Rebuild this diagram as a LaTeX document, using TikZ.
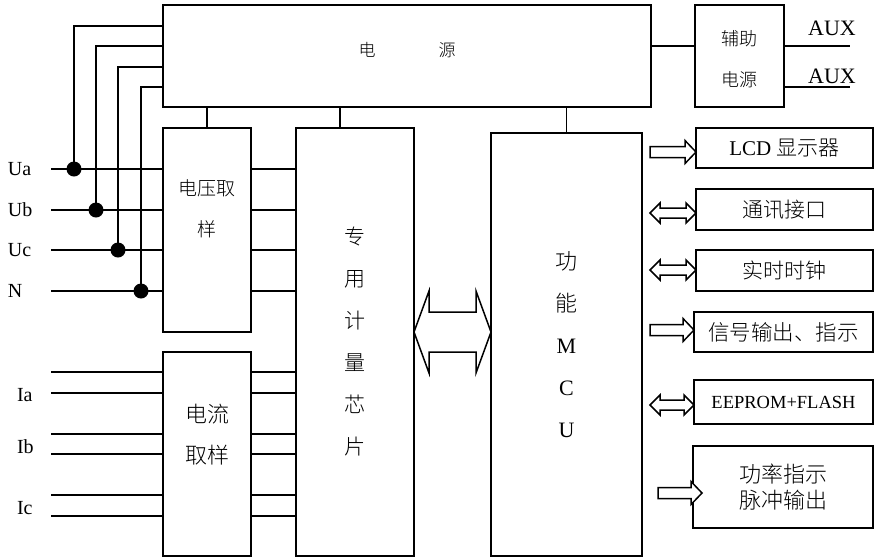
\documentclass[tikz,border=0pt]{standalone}
\usepackage{fontspec}
\setmainfont{Liberation Serif}
\newfontfamily\cjk{Noto Sans CJK SC Light}
\newcommand\fs[2]{\fontsize{#1}{#2}\selectfont}
\newcommand\fatR[2]{\draw[fatarrow] ([shift={(0,-5.5)}]#1) -- ([shift={(-11,-5.5)}]#2) -- ([shift={(-11,-11.5)}]#2) -- (#2) -- ([shift={(-11,11.5)}]#2) -- ([shift={(-11,5.5)}]#2) -- ([shift={(0,5.5)}]#1) -- cycle;}
\newcommand\fatLR[2]{\draw[fatarrow] (#1) -- ([shift={(10,-10)}]#1) -- ([shift={(10,-5)}]#1) -- ([shift={(-10,-5)}]#2) -- ([shift={(-10,-10)}]#2) -- (#2) -- ([shift={(-10,10)}]#2) -- ([shift={(-10,5)}]#2) -- ([shift={(10,5)}]#1) -- ([shift={(10,10)}]#1) -- cycle;}
\begin{document}
\begin{tikzpicture}[x=1pt,y=-1pt,line width=1.7pt,
  box/.style={draw,rectangle,inner sep=0pt,outer sep=0pt},
  lbl/.style={inner sep=0pt,outer sep=0pt},
  dot/.style={circle,fill,inner sep=0pt,minimum size=15pt},
  fatarrow/.style={draw,line width=1.5pt,line join=miter,fill=white}]
\useasboundingbox (0,0) rectangle (875,558);
% main boxes
\node[box,minimum width=488pt,minimum height=102pt] (power) at (407,56) {};
\node[lbl,font=\cjk\fs{17}{17}] (powert) at (407,50) {电\hspace{63pt}源};
\node[box,minimum width=89pt,minimum height=102pt] (aux) at (739.5,56) {};
\node[lbl,align=center,font=\cjk\fs{18}{41}] (auxt) at (739.5,59.5) {辅助\\电源};
\node[box,minimum width=88pt,minimum height=204pt] (vbox) at (207,230) {};
\node[lbl,align=center,font=\cjk\fs{19}{41}] (vboxt) at (207,208.5) {电压取\\样};
\node[box,minimum width=88pt,minimum height=204pt] (cbox) at (207,454) {};
\node[lbl,align=center,font=\cjk\fs{22}{41}] (cboxt) at (207,434.5) {电流\\取样};
\node[box,minimum width=118pt,minimum height=428pt,align=center,font=\cjk\fs{21}{42}] (chip) at (355,342) {专\\用\\计\\量\\芯\\片};
\node[box,minimum width=151pt,minimum height=423pt,align=center,font=\fs{22}{42}] (mcu) at (566.5,344.5) {{\cjk 功}\\{\cjk 能}\\M\\C\\U};
% right boxes
\node[box,minimum width=177pt,minimum height=40pt,font=\fs{21}{24}] (lcd) at (784.5,148) {LCD {\cjk 显示器}};
\node[box,minimum width=177pt,minimum height=41pt,font=\cjk\fs{21}{24}] (comm) at (784.5,209.5) {通讯接口};
\node[box,minimum width=177pt,minimum height=41pt,font=\cjk\fs{21}{24}] (rtc) at (784.5,270.5) {实时时钟};
\node[box,minimum width=179pt,minimum height=40pt,font=\cjk\fs{21.5}{24}] (sig) at (783.5,332) {信号输出、指示};
\node[box,minimum width=179pt,minimum height=44pt,font=\fs{18.5}{22}] (eep) at (783.5,402) {EEPROM+FLASH};
\node[box,minimum width=180pt,minimum height=82pt,align=center,font=\cjk\fs{22}{26}] (pwr) at (783,487) {功率指示\\脉冲输出};
% power connections
\draw (power.south -| vbox.north) -- (vbox.north);
\draw ([xshift=-15pt]chip.north) -- ([xshift=-15pt]chip.north |- power.south);
\draw (mcu.north) -- (mcu.north |- power.south);
\draw (power.east |- 0,46) -- (aux.west |- 0,46);
% AUX outputs
\coordinate (auxo1) at (850,46);
\coordinate (auxo2) at (850,87);
\draw (aux.east |- auxo1) -- (auxo1);
\draw (aux.east |- auxo2) -- (auxo2);
\node[lbl,font=\fs{22}{24}] (auxl1) at (832,28) {AUX};
\node[lbl,font=\fs{22}{24}] (auxl2) at (832,76) {AUX};
% voltage inputs
\foreach \nm/\yy/\tx/\ty/\lab in {ua/169/74/26/Ua, ub/210/96/46/Ub, uc/250/118/67/Uc, nn/291/141/87/N}{
  \coordinate (\nm) at (51,\yy);
  \draw (\nm) -- (vbox.west |- \nm);
  \node[dot] (d\nm) at (\tx,\yy) {};
  \draw (d\nm.center) |- (power.west |- 0,\ty);
  \draw (vbox.east |- \nm) -- (chip.west |- \nm);
  \node[lbl,anchor=west,font=\fs{20}{22}] (l\nm) at (8,\yy) {\lab};
}
% current inputs
\foreach \yy [count=\i] in {372,393,434,454,495,516}{
  \coordinate (ci\i) at (51,\yy);
  \draw (ci\i) -- (cbox.west |- ci\i);
  \draw (cbox.east |- ci\i) -- (chip.west |- ci\i);
}
\node[lbl,anchor=west,font=\fs{20}{22}] (lia) at (17,395) {Ia};
\node[lbl,anchor=west,font=\fs{20}{22}] (lib) at (17,447) {Ib};
\node[lbl,anchor=west,font=\fs{20}{22}] (lic) at (17,508) {Ic};
% big double arrow chip <-> MCU
\coordinate (bl) at (chip.east |- 0,332);
\coordinate (br) at (mcu.west |- 0,332);
\draw[fatarrow] (bl) -- ([shift={(15,-41)}]bl) -- ([shift={(15,-20)}]bl) -- ([shift={(-15,-20)}]br) -- ([shift={(-15,-41)}]br) -- (br) -- ([shift={(-15,41)}]br) -- ([shift={(-15,20)}]br) -- ([shift={(15,20)}]bl) -- ([shift={(15,41)}]bl) -- cycle;
% small arrows MCU -> peripherals
\coordinate (s1) at (650,152);
\coordinate (s2) at (650,213);
\coordinate (s3) at (650,270);
\coordinate (s4) at (650,330);
\coordinate (s5) at (650,405);
\coordinate (s6) at (658,493);
\coordinate (t1) at (lcd.west |- s1);
\coordinate (t2) at (comm.west |- s2);
\coordinate (t3) at (rtc.west |- s3);
\coordinate (t4) at (sig.west |- s4);
\coordinate (t5) at (eep.west |- s5);
\path (pwr.west |- s6) ++(9,0) coordinate (t6);
\fatR{s1}{t1}
\fatLR{s2}{t2}
\fatLR{s3}{t3}
\fatR{s4}{t4}
\fatLR{s5}{t5}
\fatR{s6}{t6}
\end{tikzpicture}
\end{document}
